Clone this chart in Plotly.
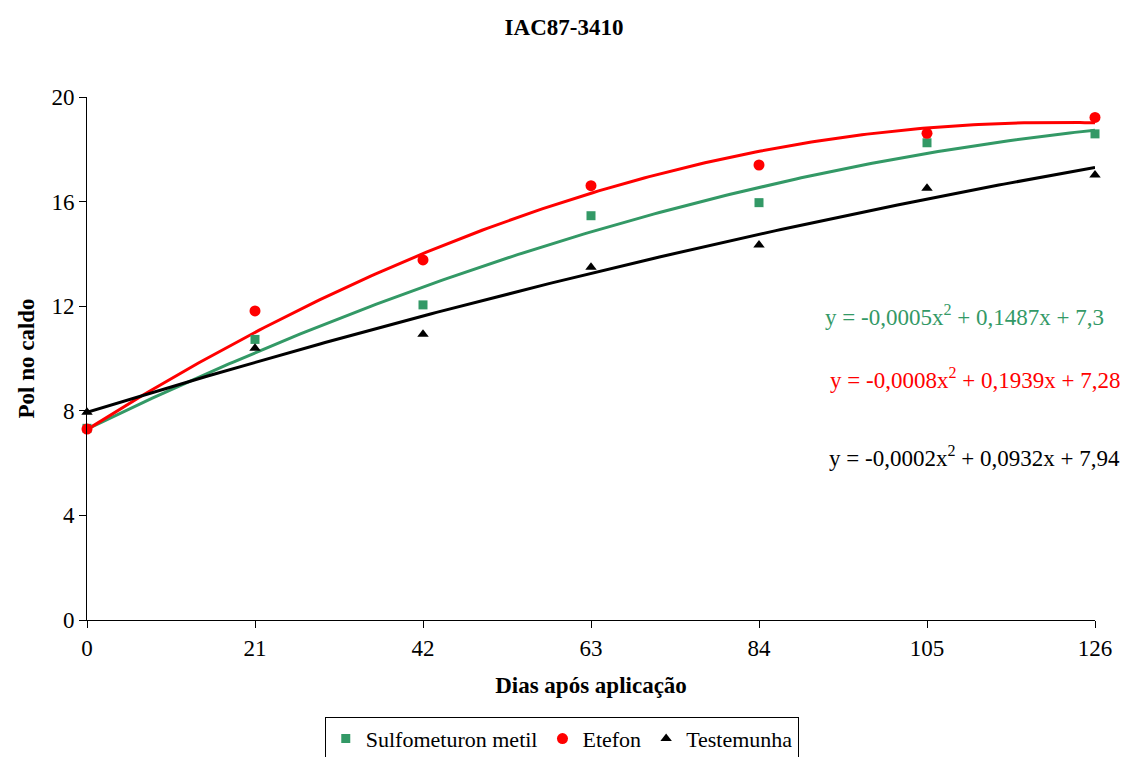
import numpy as np
import plotly.graph_objects as go

dias = [0, 21, 42, 63, 84, 105, 126]
sulfometuron = [7.33, 10.73, 12.05, 15.46, 15.96, 18.25, 18.59]
etefon = [7.3, 11.82, 13.77, 16.61, 17.4, 18.61, 19.22]
testemunha = [7.94, 10.39, 10.93, 13.49, 14.34, 16.51, 17.02]

# polynomial trendline coefficients (a, b, c)
trend_sulfometuron = [-0.00046, 0.1487, 7.3]
trend_etefon = [-0.0008, 0.1939, 7.28]
trend_testemunha = [-0.00016, 0.0945, 7.94]

series = [
    ("Sulfometuron metil", sulfometuron, trend_sulfometuron, "#339966", "square", 9),
    ("Etefon", etefon, trend_etefon, "#FF0000", "circle", 11),
    ("Testemunha", testemunha, trend_testemunha, "#000000", "triangle-up", 10),
]

equations = [
    ("y = -0,0005x<sup>2</sup> + 0,1487x + 7,3", "#339966", 1.011, 11.66),
    ("y = -0,0008x<sup>2</sup> + 0,1939x + 7,28", "#FF0000", 1.027, 9.25),
    ("y = -0,0002x<sup>2</sup> + 0,0932x + 7,94", "#000000", 1.027, 6.27),
]

font_family = "Liberation Serif"

fig = go.Figure()
xs = np.linspace(0, 126, 200)
for name, vals, coef, color, symbol, size in series:
    fig.add_trace(go.Scatter(x=xs, y=np.polyval(coef, xs), mode="lines",
                             line=dict(color=color, width=3), showlegend=False,
                             hoverinfo="skip", cliponaxis=False))
for name, vals, coef, color, symbol, size in series:
    fig.add_trace(go.Scatter(x=dias, y=vals, mode="markers", name=name,
                             marker=dict(color=color, symbol=symbol, size=size),
                             cliponaxis=False))

for text, color, xp, yv in equations:
    fig.add_annotation(x=xp, xref="paper", y=yv, yref="y", text=text,
                       showarrow=False, xanchor="right", yanchor="middle",
                       font=dict(family=font_family, size=23, color=color))

fig.update_layout(
    width=1128, height=757,
    margin=dict(l=87, r=33, t=97, b=137, autoexpand=False),
    paper_bgcolor="white", plot_bgcolor="white",
    font=dict(family=font_family, size=23, color="black"),
    title=dict(text="<b>IAC87-3410</b>", x=0.5, xanchor="center", y=0.965,
               yanchor="middle", font=dict(family=font_family, size=23)),
    xaxis=dict(range=[0, 126], tickmode="array", tickvals=dias,
               ticks="outside", ticklen=7, tickcolor="black",
               showline=True, linecolor="black", linewidth=1,
               showgrid=False, zeroline=False,
               tickfont=dict(family=font_family, size=23),
               title=dict(text="<b>Dias após aplicação</b>", standoff=17,
                          font=dict(family=font_family, size=23))),
    yaxis=dict(range=[0, 20], tickmode="array", tickvals=[0, 4, 8, 12, 16, 20],
               ticks="outside", ticklen=7, tickcolor="black",
               showline=True, linecolor="black", linewidth=1,
               showgrid=False, zeroline=False,
               tickfont=dict(family=font_family, size=23),
               title=dict(text="<b>Pol no caldo</b>", standoff=10,
                          font=dict(family=font_family, size=23))),
    legend=dict(orientation="h", x=0.471, xanchor="center", y=-0.185,
                yanchor="top", bordercolor="black", borderwidth=1,
                font=dict(family=font_family, size=22),
                itemwidth=30, tracegroupgap=0),
)

fig.write_html("out.html")
